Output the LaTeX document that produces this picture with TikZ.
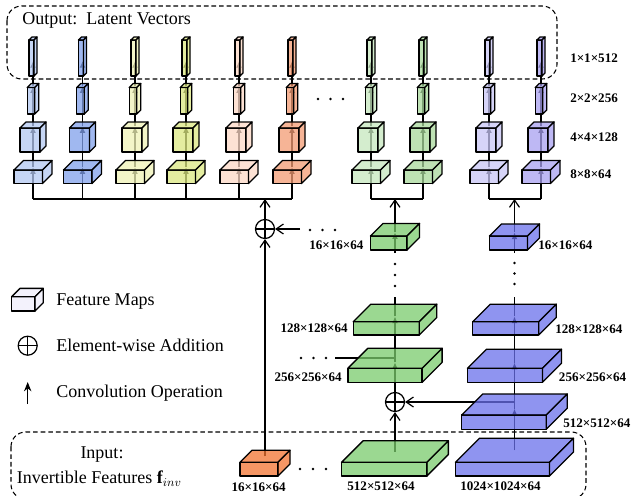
\documentclass[tikz,border=0pt]{standalone}
\usepackage{fontspec}
\setmainfont{Liberation Serif}
\usetikzlibrary{arrows.meta}
\pgfdeclarelayer{bg}
\pgfsetlayers{bg,main}

% fill colours (seen through 75% fill opacity on white)
\definecolor{cA}{RGB}{179,200,242}
\definecolor{cB}{RGB}{128,160,235}
\definecolor{cC}{RGB}{239,242,182}
\definecolor{cD}{RGB}{219,231,128}
\definecolor{cE}{RGB}{252,216,198}
\definecolor{cF}{RGB}{243,155,115}
\definecolor{cG}{RGB}{198,231,190}
\definecolor{cH}{RGB}{168,216,155}
\definecolor{cI}{RGB}{200,198,246}
\definecolor{cJ}{RGB}{168,160,240}
\definecolor{mapgreen}{RGB}{122,203,108}
\definecolor{mapblue}{RGB}{106,112,235}
\definecolor{maporange}{RGB}{242,115,48}
\definecolor{maplegend}{RGB}{239,238,251}

\tikzset{
  fmface/.style={draw=black, line width=1pt, line join=round, fill opacity=0.75},
  conv/.style={line width=0.9pt, -{Latex[length=5pt,width=4.4pt]}},
  feed/.style={line width=0.9pt, -{Straight Barb[length=5.5pt,width=7.5pt]}},
  link/.style={line width=0.9pt},
  dimlabel/.style={font=\fontsize{9.8}{11}\selectfont\bfseries, inner sep=0pt},
  legtext/.style={font=\fontsize{13.5}{16}\selectfont, inner sep=0pt},
  groupframe/.style={line width=0.8pt, dash pattern=on 3.5pt off 2.2pt, rounded corners=11pt},
  oplus/.style={circle, draw, line width=0.9pt, minimum size=14.25pt, inner sep=0pt,
    path picture={\draw[line width=0.9pt]
      (path picture bounding box.north) -- (path picture bounding box.south)
      (path picture bounding box.west) -- (path picture bounding box.east);}},
  ell/.style={fill=black},
}

% feature map block: name, line x, front top y, front width, front height, depth, colour
\newcommand\featmap[7]{%
  \pgfmathsetmacro\fmL{#2-(#4+#6)/2}%
  \pgfmathsetmacro\fmR{\fmL+#4}%
  \pgfmathsetmacro\fmB{#3+#5}%
  \pgfmathsetmacro\fmT{#3-#6}%
  \pgfmathsetmacro\fmBL{\fmL+#6}%
  \pgfmathsetmacro\fmBR{\fmR+#6}%
  \pgfmathsetmacro\fmBB{\fmB-#6}%
  \filldraw[fmface, fill=#7] (\fmL,#3) rectangle (\fmR,\fmB);
  \filldraw[fmface, fill=#7] (\fmL,#3) -- (\fmBL,\fmT) -- (\fmBR,\fmT) -- (\fmR,#3) -- cycle;
  \filldraw[fmface, fill=#7] (\fmR,#3) -- (\fmBR,\fmT) -- (\fmBR,\fmBB) -- (\fmR,\fmB) -- cycle;
  \coordinate (#1) at (#2,{#3-0.3*#6});
  \coordinate (#1-in) at (#2,{#3-0.5*#6});
}

\begin{document}
\begin{tikzpicture}[x=0.75pt,y=-0.75pt]
\useasboundingbox (0,0) rectangle (637,496);

% dashed group frames
\draw[groupframe] (7,6) rectangle (557,79);
\draw[groupframe] (11,432) rectangle (586,499);
\node[legtext, anchor=base west] (outtitle) at (22,24.2) {Output:\ \ Latent Vectors};
\node[legtext, anchor=base] (intitle) at (102,458.3) {Input:};
\node[legtext, anchor=base west] (insub) at (16.7,483.5) {Invertible Features $\mathbf{f}_{inv}$};

% encoder columns producing the latent vectors
\foreach \cx/\cc [count=\i] in {33/cA,82.5/cB,135/cC,186/cD,239/cE,292/cF,371/cG,423/cH,489/cI,541/cJ} {
  \featmap{slab\i}{\cx}{170}{28.5}{13.5}{9.5}{\cc}
  \featmap{cube\i}{\cx}{128}{20}{24}{6}{\cc}
  \featmap{vec\i}{\cx}{87.5}{7.5}{26.5}{4}{\cc}
  \featmap{lat\i}{\cx}{40}{5}{36}{3}{\cc}
  \coordinate (bus\i) at (\cx,199);
  \coordinate (latmid\i) at (\cx,61);
}
\fill[ell] (318,99) circle[radius=1pt] (330.5,99) circle[radius=1pt] (343,99) circle[radius=1pt];

\node[dimlabel, anchor=base west] (d1) at (570,62.1) {1×1×512};
\node[dimlabel, anchor=base west] (d2) at (570,102.7) {2×2×256};
\node[dimlabel, anchor=base west] (d3) at (570,141.1) {4×4×128};
\node[dimlabel, anchor=base west] (d4) at (570,178.7) {8×8×64};

% pyramid of input features
\featmap{g16}{395}{236}{36.6}{14}{12.5}{mapgreen}
\featmap{g128}{395}{321.7}{66}{13.3}{17.5}{mapgreen}
\featmap{g256}{395}{368.3}{74.3}{14}{20}{mapgreen}
\featmap{g512}{395}{462.3}{85.3}{13.7}{21.5}{mapgreen}
\featmap{b16}{514.5}{236}{38}{14}{12}{mapblue}
\featmap{b128}{514.5}{321.7}{66}{13.3}{17.5}{mapblue}
\featmap{b256}{514.5}{368.3}{75}{14}{19}{mapblue}
\featmap{b512}{514.5}{415}{84.4}{14.3}{21}{mapblue}
\featmap{b1024}{514.5}{462.3}{94}{13.7}{24}{mapblue}
\featmap{o16}{265}{462.3}{38}{13.7}{12}{maporange}

\node[oplus] (sum1) at (265,229) {};
\node[oplus] (sum2) at (395,402) {};

\coordinate (dotsA) at (300,229);
\coordinate (dotsC) at (335,358);
\coordinate (g128up) at (395,297);
\coordinate (g16low) at (395,253);
\coordinate (b128up) at (514.5,297);
\coordinate (b16low) at (514.5,253);

\fill[ell] (310,230) circle[radius=1pt] (322.5,230) circle[radius=1pt] (335,230) circle[radius=1pt];
\fill[ell] (301,358) circle[radius=1pt] (313.5,358) circle[radius=1pt] (326,358) circle[radius=1pt];
\fill[ell] (300,469) circle[radius=1pt] (313,469) circle[radius=1pt] (326,469) circle[radius=1pt];
\fill[ell] (395,264) circle[radius=1pt] (395,275) circle[radius=1pt] (395,286) circle[radius=1pt];
\fill[ell] (514.5,263) circle[radius=1pt] (514.5,273.5) circle[radius=1pt] (514.5,284) circle[radius=1pt];

\node[dimlabel, anchor=base west] (lg16) at (309,249.4) {16×16×64};
\node[dimlabel, anchor=base west] (lb16) at (538,249.4) {16×16×64};
\node[dimlabel, anchor=base east] (lg128) at (348,332.4) {128×128×64};
\node[dimlabel, anchor=base west] (lb128) at (555,333.4) {128×128×64};
\node[dimlabel, anchor=base east] (lg256) at (342,381.4) {256×256×64};
\node[dimlabel, anchor=base west] (lb256) at (558.7,381) {256×256×64};
\node[dimlabel, anchor=base west] (lb512) at (563,427) {512×512×64};
\node[dimlabel, anchor=base] (lo16) at (258.7,491) {16×16×64};
\node[dimlabel, anchor=base] (lg512) at (381,490.4) {512×512×64};
\node[dimlabel, anchor=base] (lb1024) at (500.5,490.4) {1024×1024×64};

% legend
\featmap{legmap}{27.5}{296.7}{23.3}{14.3}{8.3}{maplegend}
\node[oplus] (legsum) at (27.7,345.7) {};
\coordinate (legconvA) at (27.7,404);
\coordinate (legconvB) at (27.7,382);
\draw[line width=1pt, -{Stealth[length=7pt,width=5.5pt]}] (legconvA) -- (legconvB);
\node[legtext, anchor=base west] (legFM) at (56,305.2) {Feature Maps};
\node[legtext, anchor=base west] (legEA) at (56,351.6) {Element-wise Addition};
\node[legtext, anchor=base west] (legCO) at (56,397.6) {Convolution Operation};

% connections, kept behind the translucent blocks
\begin{pgfonlayer}{bg}
  \foreach \i in {1,...,10} {
    \draw[conv] (bus\i) -- (slab\i);
    \draw[conv] (slab\i) -- (cube\i);
    \draw[conv] (cube\i) -- (vec\i);
    \draw[conv] (vec\i) -- (latmid\i);
  }
  \draw[link] (bus1) -- (bus6);
  \draw[link] (bus7) -- (bus8);
  \draw[link] (bus9) -- (bus10);

  \draw[feed] (o16-in) -- (sum1.south);
  \draw[feed] (dotsA) -- (sum1.east);
  \draw[feed] (sum1.north) -- (sum1 |- bus1);

  \draw[feed] (g512-in) -- (sum2.south);
  \draw[conv] (sum2.north) -- (g256);
  \draw[conv] (g256) -- (g128);
  \draw[link] (g128) -- (g128up);
  \draw[conv] (g16low) -- (g16);
  \draw[feed] (g16) -- (g16 |- bus7);
  \draw[link] (dotsC) -- (dotsC -| g256);

  \draw[conv] (b1024-in) -- (b512);
  \draw[conv] (b512) -- (b256);
  \draw[conv] (b256) -- (b128);
  \draw[link] (b128) -- (b128up);
  \draw[conv] (b16low) -- (b16);
  \draw[feed] (b16) -- (b16 |- bus9);
  \draw[feed] (sum2 -| b512) -- (sum2.east);
\end{pgfonlayer}
\end{tikzpicture}
\end{document}
